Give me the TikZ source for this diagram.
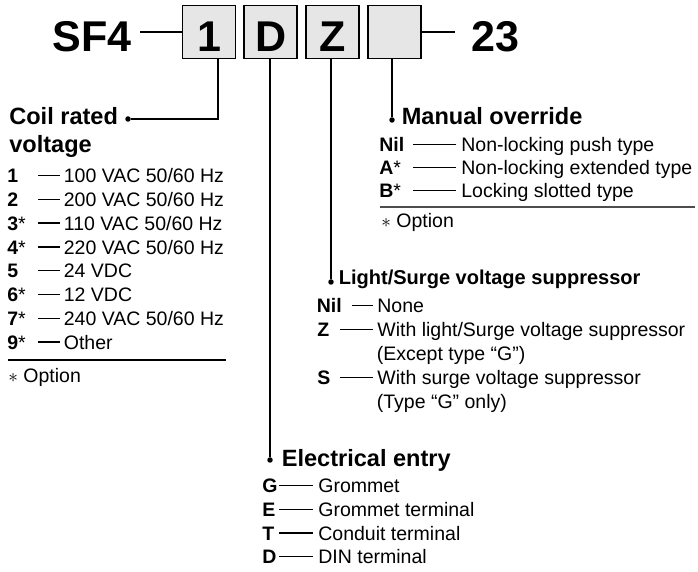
\documentclass[tikz,border=0pt]{standalone}
\usepackage{fontspec}
\setmainfont{Liberation Sans}
\usepackage{tikz}
\usetikzlibrary{positioning}
\definecolor{SFBox}{HTML}{E6E6E6}
\definecolor{SFRule}{HTML}{4D4D4D}
\newcommand{\sfbig}{\fontsize{24.5pt}{28pt}\selectfont\bfseries}
\newcommand{\sfhead}{\fontsize{13.4pt}{16pt}\selectfont\bfseries}
\newcommand{\sfsub}{\fontsize{11.4pt}{14pt}\selectfont\bfseries}
\newcommand{\sfbody}{\fontsize{11.1pt}{13.5pt}\selectfont}
\newcommand{\optmark}{{\mdseries *}}
\tikzset{
  codebox/.style={draw,line width=1.1pt,fill=SFBox,minimum size=1.06cm,inner sep=0pt,
    text height=0.8cm,text depth=0pt,font=\sfbig},
  conn/.style={line width=1.1pt},
  tick/.style={line width=0.6pt},
  dot/.style={circle,fill,inner sep=0pt,minimum size=0.11cm},
  txt/.style={anchor=base west,inner sep=0pt,text height=0.32cm,text depth=0.02cm,font=\sfbody},
  key/.style={txt,font=\sfbody\bfseries},
  head/.style={anchor=base west,inner sep=0pt,font=\sfhead},
}

\begin{document}
\begin{tikzpicture}[x=1cm,y=-1cm]
\path[use as bounding box] (0,0) rectangle (13.96,11.44);
% model code
\node[anchor=base west,inner sep=0pt,font=\sfbig] (sf4) at (1.04,1.04) {SF4};
\node[codebox] (box1) at (4.18,0.64) {1};
\node[codebox,right=0.14cm of box1] (boxD) {D};
\node[codebox,right=0.14cm of boxD] (boxZ) {Z};
\node[codebox,right=0.14cm of boxZ] (boxO) {};
\node[anchor=base west,inner sep=0pt,font=\sfbig] (n23) at (9.42,1.04) {23};
\draw[conn] (box1.west) -- ([xshift=0.16cm]box1.west -| sf4.east);
\draw[conn] (boxO.east) -- ([xshift=-0.32cm]boxO.east -| n23.west);

% leaders
\node[dot] (dcoil) at (2.56,2.38) {};
\node[dot] (dman) at (7.84,2.40) {};
\node[dot] (dlight) at (6.62,5.64) {};
\node[dot] (dentry) at (5.40,9.20) {};
\draw[conn] (dcoil) -| ([xshift=0.18cm]box1.south);
\draw[conn] (dman) -- (dman |- boxO.south);
\draw[conn] (dlight) -- (dlight |- boxZ.south);
\draw[conn] (dentry) -- (dentry |- boxD.south);

% coil rated voltage
\node[head] (hcoil1) at (0.18,2.50) {Coil rated};
\node[head] (hcoil2) at (0.18,3.06) {voltage};
\node[key] (c1k) at (0.14,3.66) {1};
\node[txt] (c1v) at (1.27,3.66) {100 VAC 50/60 Hz};
\draw[tick] ([xshift=-0.08cm]c1v.west) -- ++(-0.43,0);
\node[key] (c2k) at (0.14,4.14) {2};
\node[txt] (c2v) at (1.27,4.14) {200 VAC 50/60 Hz};
\draw[tick] ([xshift=-0.08cm]c2v.west) -- ++(-0.43,0);
\node[key] (c3k) at (0.14,4.61) {3\optmark};
\node[txt] (c3v) at (1.27,4.61) {110 VAC 50/60 Hz};
\draw[tick] ([xshift=-0.08cm]c3v.west) -- ++(-0.43,0);
\node[key] (c4k) at (0.14,5.09) {4\optmark};
\node[txt] (c4v) at (1.27,5.09) {220 VAC 50/60 Hz};
\draw[tick] ([xshift=-0.08cm]c4v.west) -- ++(-0.43,0);
\node[key] (c5k) at (0.14,5.56) {5};
\node[txt] (c5v) at (1.27,5.56) {24 VDC};
\draw[tick] ([xshift=-0.08cm]c5v.west) -- ++(-0.43,0);
\node[key] (c6k) at (0.14,6.04) {6\optmark};
\node[txt] (c6v) at (1.27,6.04) {12 VDC};
\draw[tick] ([xshift=-0.08cm]c6v.west) -- ++(-0.43,0);
\node[key] (c7k) at (0.14,6.52) {7\optmark};
\node[txt] (c7v) at (1.27,6.52) {240 VAC 50/60 Hz};
\draw[tick] ([xshift=-0.08cm]c7v.west) -- ++(-0.43,0);
\node[key] (c9k) at (0.14,6.99) {9\optmark};
\node[txt] (c9v) at (1.27,6.99) {Other};
\draw[tick] ([xshift=-0.08cm]c9v.west) -- ++(-0.43,0);
\draw[line width=0.8pt] (0.16,7.20) -- (4.52,7.20);
\node[txt] (coilnote) at (0.16,7.66) {$\ast$ Option};

% manual override
\node[head] (hman) at (8.03,2.50) {Manual override};
\node[key] (m1k) at (7.58,3.04) {Nil};
\node[txt] (m1v) at (9.22,3.04) {Non-locking push type};
\draw[tick] ([xshift=-0.10cm]m1v.west) -- ++(-0.86,0);
\node[key] (m2k) at (7.58,3.50) {A\optmark};
\node[txt] (m2v) at (9.22,3.50) {Non-locking extended type};
\draw[tick] ([xshift=-0.10cm]m2v.west) -- ++(-0.86,0);
\node[key] (m3k) at (7.58,3.96) {B\optmark};
\node[txt] (m3v) at (9.22,3.96) {Locking slotted type};
\draw[tick] ([xshift=-0.10cm]m3v.west) -- ++(-0.86,0);
\draw[line width=0.8pt,SFRule] (7.60,4.14) -- (13.90,4.14);
\node[txt] (mannote) at (7.62,4.56) {$\ast$ Option};

% light/surge voltage suppressor
\node[head,font=\sfsub] (hlight) at (6.77,5.70) {Light/Surge voltage suppressor};
\node[key] (l1k) at (6.33,6.26) {Nil};
\node[txt] (l1v) at (7.54,6.26) {None};
\draw[tick] ([xshift=-0.08cm]l1v.west) -- ++(-0.42,0);
\node[key] (l2k) at (6.34,6.74) {Z};
\node[txt] (l2v) at (7.54,6.74) {With light/Surge voltage suppressor};
\node[txt] (l2w) at (7.53,7.22) {(Except type “G”)};
\draw[tick] ([xshift=-0.08cm]l2v.west) -- ++(-0.66,0);
\node[key] (l3k) at (6.34,7.70) {S};
\node[txt] (l3v) at (7.54,7.70) {With surge voltage suppressor};
\node[txt] (l3w) at (7.53,8.18) {(Type “G” only)};
\draw[tick] ([xshift=-0.08cm]l3v.west) -- ++(-0.66,0);

% electrical entry
\node[head] (hentry) at (5.63,9.34) {Electrical entry};
\node[key] (e1k) at (5.24,9.86) {G};
\node[txt] (e1v) at (6.36,9.86) {Grommet};
\draw[tick] ([xshift=-0.10cm]e1v.west) -- ++(-0.68,0);
\node[key] (e2k) at (5.24,10.34) {E};
\node[txt] (e2v) at (6.36,10.34) {Grommet terminal};
\draw[tick] ([xshift=-0.10cm]e2v.west) -- ++(-0.68,0);
\node[key] (e3k) at (5.24,10.81) {T};
\node[txt] (e3v) at (6.36,10.81) {Conduit terminal};
\draw[tick] ([xshift=-0.10cm]e3v.west) -- ++(-0.68,0);
\node[key] (e4k) at (5.24,11.28) {D};
\node[txt] (e4v) at (6.36,11.28) {DIN terminal};
\draw[tick] ([xshift=-0.10cm]e4v.west) -- ++(-0.68,0);
\end{tikzpicture}
\end{document}
